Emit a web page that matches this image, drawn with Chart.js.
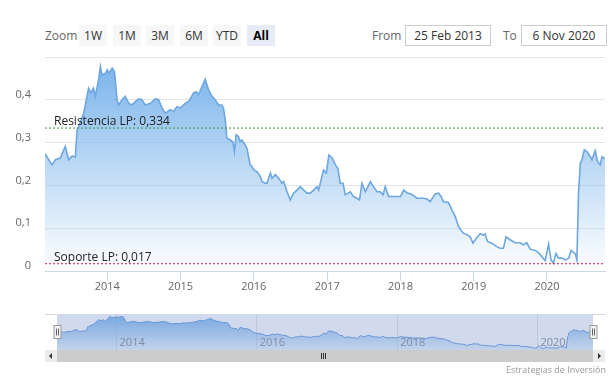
<!DOCTYPE html>
<html><head><meta charset="utf-8">
<script src="https://cdn.jsdelivr.net/npm/chart.js@4.4.1/dist/chart.umd.min.js"></script>
<style>
html,body{margin:0;padding:0;background:#fff;}
body{width:616px;height:384px;position:relative;overflow:hidden;font-family:"Open Sans",sans-serif;}
#main{position:absolute;left:0;top:0;}
#nav{position:absolute;left:0;top:305px;}
.btn{position:absolute;top:25px;width:28px;height:21px;line-height:21px;text-align:center;font-size:12px;color:#333;background:#f7f7f7;}
.btn.sel{background:#e6ebf5;font-weight:bold;color:#000;}
.lbl{position:absolute;top:25px;line-height:21px;font-size:12px;color:#666;}
.inp{position:absolute;top:25px;width:86px;height:21px;line-height:19px;border:1px solid #ccc;text-align:center;font-size:12px;color:#333;box-sizing:border-box;}
.sb{position:absolute;top:350px;height:12px;}
#credits{position:absolute;right:10px;top:363px;font-size:9px;color:#999;}
</style></head>
<body>
<div class="lbl" style="left:45px">Zoom</div>
<div class="btn" style="left:79px">1W</div>
<div class="btn" style="left:113px">1M</div>
<div class="btn" style="left:146px">3M</div>
<div class="btn" style="left:180px">6M</div>
<div class="btn" style="left:213px">YTD</div>
<div class="btn sel" style="left:247px">All</div>
<div class="lbl" style="left:372px">From</div>
<div class="inp" style="left:405px">25 Feb 2013</div>
<div class="lbl" style="left:503px">To</div>
<div class="inp" style="left:521px">6 Nov 2020</div>
<canvas id="main" width="616" height="300"></canvas>
<canvas id="nav" width="616" height="60"></canvas>
<div class="sb" style="left:45px;width:12px;background:#ebebeb;"><div style="position:absolute;left:4px;top:3px;width:0;height:0;border-top:3px solid transparent;border-bottom:3px solid transparent;border-right:3px solid #333;"></div></div>
<div class="sb" style="left:57px;width:536px;background:#cccccc;"></div>
<div class="sb" style="left:593px;width:12px;background:#ebebeb;"><div style="position:absolute;left:5px;top:3px;width:0;height:0;border-top:3px solid transparent;border-bottom:3px solid transparent;border-left:3px solid #333;"></div></div>
<div class="sb" style="left:321px;top:353px;width:1px;height:6px;background:#333;"></div>
<div class="sb" style="left:323px;top:353px;width:1px;height:6px;background:#333;"></div>
<div class="sb" style="left:325px;top:353px;width:1px;height:6px;background:#333;"></div>
<div id="credits">Estrategias de Inversión</div>
<script>
const dates = [
"2013-02-25","2013-04-01","2013-04-18","2013-05-12","2013-06-06","2013-06-23","2013-07-10","2013-07-26",
"2013-08-04","2013-08-12","2013-09-06","2013-09-30","2013-10-12","2013-10-25","2013-11-03","2013-11-19",
"2013-11-28","2013-12-06","2013-12-23","2014-01-01","2014-01-09","2014-01-26","2014-02-06","2014-02-19",
"2014-02-27","2014-03-16","2014-04-01","2014-04-18","2014-05-04","2014-05-21","2014-06-06","2014-06-23",
"2014-07-10","2014-08-04","2014-08-28","2014-09-14","2014-10-01","2014-10-17","2014-11-11","2014-11-28",
"2014-12-14","2015-01-01","2015-01-17","2015-01-26","2015-02-11","2015-03-07","2015-03-21","2015-04-01",
"2015-04-18","2015-05-04","2015-05-21","2015-06-07","2015-06-23","2015-07-10","2015-07-26","2015-08-03",
"2015-08-12","2015-08-20","2015-09-06","2015-09-19","2015-09-27","2015-10-05","2015-10-17","2015-10-25",
"2015-11-03","2015-11-19","2015-11-28","2015-12-14","2015-12-23","2016-01-01","2016-01-17","2016-02-02",
"2016-02-11","2016-02-27","2016-03-07","2016-03-24","2016-04-01","2016-04-18","2016-05-04","2016-05-21",
"2016-05-29","2016-06-15","2016-07-01","2016-07-18","2016-08-04","2016-08-20","2016-09-06","2016-09-22",
"2016-10-09","2016-10-25","2016-11-11","2016-11-19","2016-12-06","2016-12-14","2016-12-28","2017-01-09",
"2017-01-26","2017-02-11","2017-02-23","2017-03-07","2017-03-21","2017-04-01","2017-04-26","2017-05-12",
"2017-05-29","2017-06-11","2017-06-23","2017-07-10","2017-08-04","2017-08-20","2017-09-06","2017-09-22",
"2017-10-06","2017-10-17","2017-11-03","2017-11-27","2017-12-14","2018-01-01","2018-01-17","2018-02-02",
"2018-02-27","2018-03-24","2018-04-26","2018-05-13","2018-05-29","2018-06-23","2018-07-10","2018-07-22",
"2018-08-03","2018-08-28","2018-09-14","2018-10-01","2018-10-17","2018-11-03","2018-11-11","2018-11-28",
"2018-12-14","2018-12-28","2019-01-13","2019-02-02","2019-02-19","2019-02-27","2019-03-10","2019-04-01",
"2019-04-26","2019-05-12","2019-05-29","2019-06-11","2019-07-01","2019-07-26","2019-08-20","2019-09-06",
"2019-09-22","2019-10-09","2019-11-03","2019-11-19","2019-12-06","2019-12-23","2020-01-09","2020-01-21",
"2020-02-02","2020-02-15","2020-02-27","2020-03-16","2020-04-01","2020-04-18","2020-04-30","2020-05-21",
"2020-05-29","2020-06-06","2020-06-15","2020-06-23","2020-07-05","2020-07-18","2020-08-04","2020-08-12",
"2020-08-28","2020-09-09","2020-09-22","2020-10-01","2020-10-12","2020-10-16"
];
const values = [
0.274,0.248,0.260,0.264,0.291,0.260,0.269,0.266,
0.330,0.337,0.369,0.427,0.416,0.427,0.408,0.447,
0.478,0.458,0.462,0.470,0.462,0.474,0.466,0.400,
0.388,0.400,0.408,0.392,0.388,0.396,0.402,0.400,
0.388,0.392,0.402,0.400,0.381,0.369,0.377,0.373,
0.384,0.381,0.388,0.392,0.396,0.416,0.419,0.412,
0.431,0.448,0.423,0.408,0.400,0.388,0.388,0.381,
0.353,0.310,0.306,0.302,0.279,0.318,0.314,0.302,
0.306,0.295,0.287,0.248,0.244,0.236,0.232,0.221,
0.209,0.205,0.205,0.229,0.217,0.225,0.217,0.205,
0.209,0.185,0.166,0.182,0.189,0.197,0.189,0.182,
0.182,0.189,0.197,0.189,0.221,0.236,0.229,0.271,
0.264,0.248,0.240,0.205,0.205,0.178,0.185,0.174,
0.170,0.166,0.205,0.185,0.209,0.197,0.185,0.185,
0.178,0.197,0.174,0.174,0.174,0.174,0.189,0.183,
0.179,0.170,0.170,0.168,0.162,0.180,0.182,0.174,
0.162,0.160,0.143,0.127,0.104,0.092,0.088,0.085,
0.080,0.065,0.076,0.087,0.084,0.087,0.069,0.065,
0.057,0.053,0.053,0.080,0.073,0.066,0.066,0.061,
0.066,0.051,0.048,0.043,0.034,0.024,0.063,0.026,
0.018,0.041,0.030,0.030,0.026,0.030,0.048,0.040,
0.026,0.182,0.252,0.260,0.283,0.279,0.267,0.260,
0.281,0.256,0.248,0.267,0.264,0.262
];
const yearTicks = [2014,2015,2016,2017,2018,2019,2020];
const navYearTicks = [2014,2016,2018,2020];
const resistance = 0.334;
const support = 0.017;
const resistanceLabel = "Resistencia LP: 0,334";
const supportLabel = "Soporte LP: 0,017";
const startDate = "2013-02-25";
const endDate = "2020-10-16";

const xMin = Date.parse(startDate), xMax = Date.parse(endDate);
const points = dates.map((d,i)=>({x:Date.parse(d), y:values[i]}));
const vMax = Math.max(...values);
Chart.defaults.font.family = '"Open Sans", sans-serif';

function areaFill(ctx, a0, a1){
  const c = ctx.chart, ca = c.chartArea;
  if(!ca) return 'rgba(124,181,236,0.5)';
  const top = c.scales.y.getPixelForValue(vMax);
  const g = c.ctx.createLinearGradient(0, top, 0, ca.bottom);
  g.addColorStop(0, 'rgba(124,181,236,'+a0+')');
  g.addColorStop(1, 'rgba(124,181,236,'+a1+')');
  return g;
}
const fmt = v => Math.abs(v) < 1e-9 ? '0' : v.toFixed(1).replace('.', ',');

const labelPlugin = {id:'lp', afterDatasetsDraw(c){
  const ctx=c.ctx, ys=c.scales.y, x=c.chartArea.left+9;
  ctx.save(); ctx.font='12px "Open Sans", sans-serif'; ctx.fillStyle='#222'; ctx.textBaseline='alphabetic';
  ctx.fillText(resistanceLabel, x, Math.round(ys.getPixelForValue(resistance))-3);
  ctx.fillText(supportLabel, x, Math.round(ys.getPixelForValue(support))-3);
  ctx.restore();
}};

new Chart(document.getElementById('main'), {
  type:'line',
  data:{datasets:[
    {data:points, borderColor:'#6ea7e0', borderWidth:1.6, pointRadius:0, fill:'origin', backgroundColor:c=>areaFill(c,1,0), tension:0, order:3},
    {data:[{x:xMin,y:resistance},{x:xMax,y:resistance}], borderColor:'#3f9a3a', borderWidth:1, borderDash:[2,2], pointRadius:0, fill:false, order:1},
    {data:[{x:xMin,y:support},{x:xMax,y:support}], borderColor:'#d6203f', borderWidth:1, borderDash:[2,2], pointRadius:0, fill:false, order:2}
  ]},
  options:{responsive:false, animation:false, devicePixelRatio:1, events:[],
    layout:{padding:{left:0,right:11,top:57,bottom:0}},
    plugins:{legend:{display:false}, tooltip:{enabled:false}},
    scales:{
      x:{type:'linear', min:xMin, max:xMax,
        afterBuildTicks:s=>{s.ticks=yearTicks.map(y=>({value:Date.UTC(y,0,1)}));},
        afterFit:s=>{s.height=29;},
        ticks:{callback:v=>String(new Date(v).getUTCFullYear()), color:'#666', font:{size:11}, padding:-1, autoSkip:false, maxRotation:0},
        grid:{drawOnChartArea:false, drawTicks:true, tickLength:10, color:'#ccd6eb'},
        border:{color:'#ccd6eb'}},
      y:{min:0, max:0.5,
        afterFit:s=>{s.width=45;},
        ticks:{stepSize:0.1, callback:v=> v>0.49 ? '' : fmt(v), color:'#666', font:{size:11}, padding:14, labelOffset:-5},
        grid:{color:'#e6e6e6', drawTicks:false},
        border:{display:false}}
    }
  },
  plugins:[labelPlugin]
});

const navPlugin = {id:'np',
  afterDatasetsDraw(c){
    const ca=c.chartArea, ctx=c.ctx, xs=c.scales.x;
    ctx.save();
    ctx.font='11px "Open Sans", sans-serif'; ctx.fillStyle='#8a8f99'; ctx.textBaseline='middle'; ctx.textAlign='left';
    navYearTicks.forEach(y=>{ ctx.fillText(String(y), xs.getPixelForValue(Date.UTC(y,0,1))+3, ca.bottom-7.5); });
    ctx.fillStyle='rgba(102,133,194,0.3)';
    ctx.fillRect(ca.left, ca.top, ca.right-ca.left, ca.bottom-ca.top); ctx.restore();
  },
  afterDraw(c){
    const ca=c.chartArea, ctx=c.ctx;
    ctx.save();
    ctx.strokeStyle='#d4d4d4'; ctx.lineWidth=1;
    ctx.beginPath(); ctx.moveTo(45, ca.top+0.5); ctx.lineTo(ca.left, ca.top+0.5);
    ctx.moveTo(ca.right, ca.top+0.5); ctx.lineTo(605, ca.top+0.5); ctx.stroke();
    [ca.left, ca.right].forEach(x=>{
      const cx=Math.round(x)+0.5, cy=Math.round((ca.top+ca.bottom)/2);
      ctx.fillStyle='#f2f2f2'; ctx.strokeStyle='#999';
      ctx.fillRect(cx-3.5, cy-6.5, 7, 13); ctx.strokeRect(cx-3.5, cy-6.5, 7, 13);
      ctx.strokeStyle='#666';
      ctx.beginPath(); ctx.moveTo(cx-1, cy-3.5); ctx.lineTo(cx-1, cy+3.5); ctx.moveTo(cx+1, cy-3.5); ctx.lineTo(cx+1, cy+3.5); ctx.stroke();
    });
    ctx.restore();
  }
};

new Chart(document.getElementById('nav'), {
  type:'line',
  data:{datasets:[
    {data:points, borderColor:'#6a9fe0', borderWidth:1, pointRadius:0, fill:'origin', backgroundColor:c=>areaFill(c,0.95,0.15), tension:0}
  ]},
  options:{responsive:false, animation:false, devicePixelRatio:1, events:[],
    layout:{padding:{left:57,right:23,top:9,bottom:0}},
    plugins:{legend:{display:false}, tooltip:{enabled:false}},
    scales:{
      x:{type:'linear', min:xMin, max:xMax,
        afterBuildTicks:s=>{s.ticks=navYearTicks.map(y=>({value:Date.UTC(y,0,1)}));},
        afterFit:s=>{s.height=15;},
        ticks:{display:false},
        grid:{drawTicks:false, color:'#e6e6e6'},
        border:{display:false}},
      y:{display:false, min:0, max:0.51}
    }
  },
  plugins:[navPlugin]
});
</script>
</body></html>
